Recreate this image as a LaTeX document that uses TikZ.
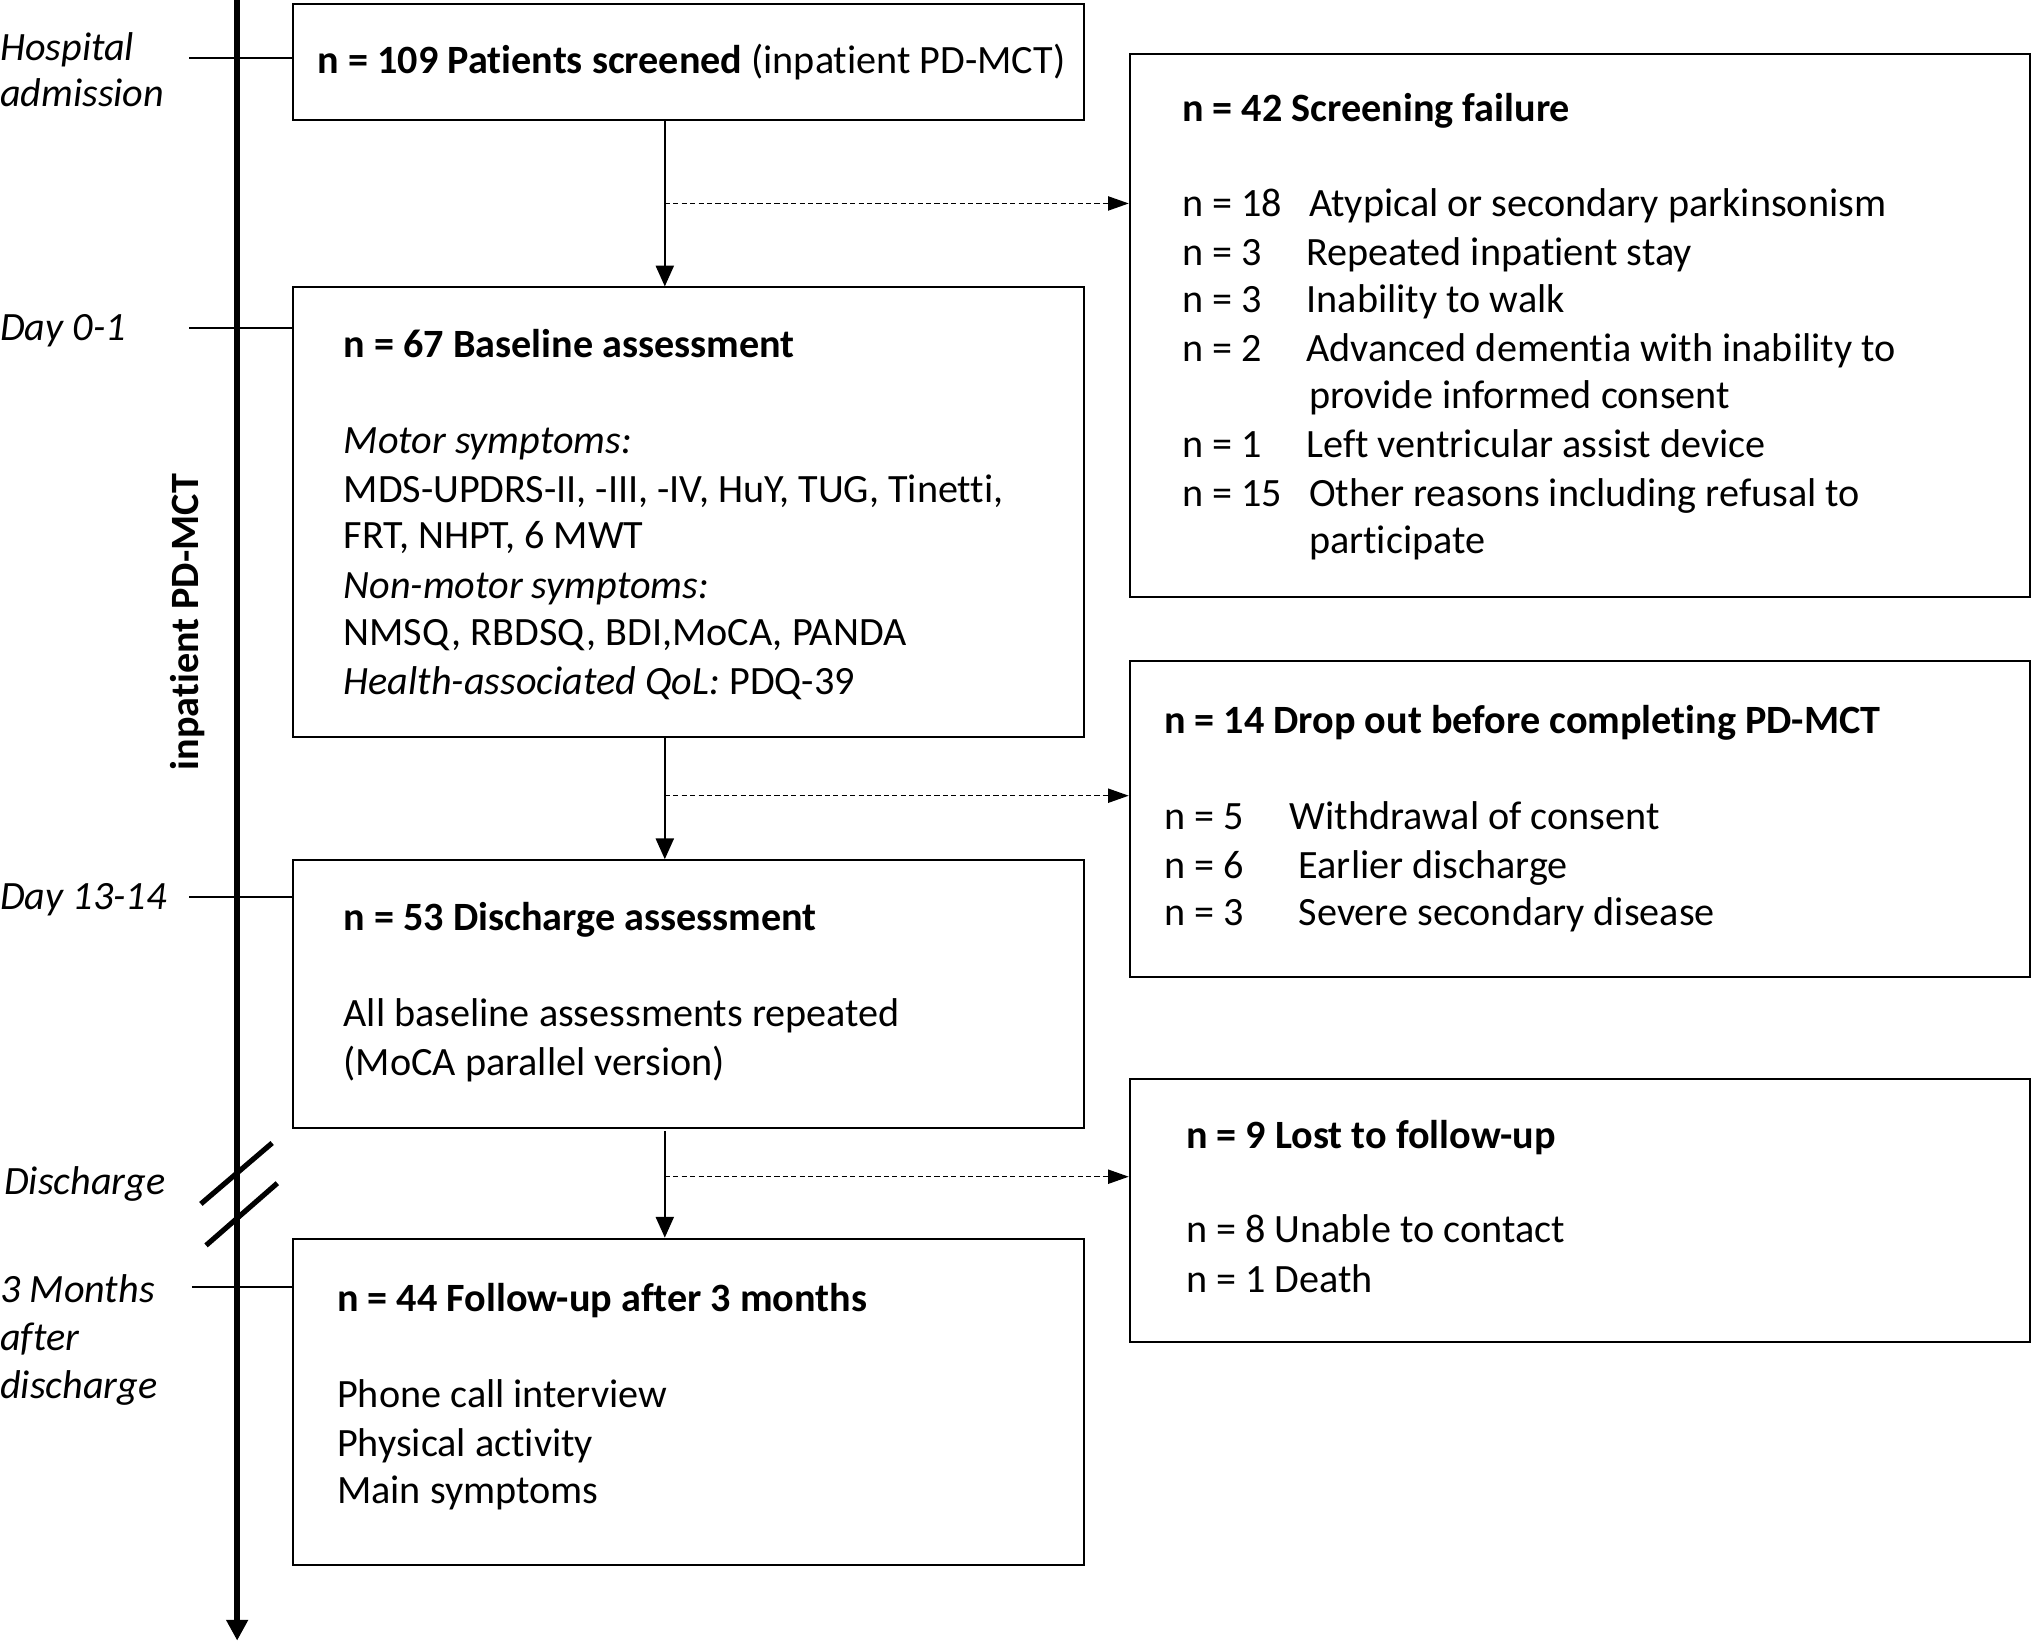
\documentclass[tikz,border=0pt]{standalone}
\usepackage{fontspec}
\setmainfont{Carlito}[Ligatures=NoCommon]
\usetikzlibrary{arrows.meta}
\begin{document}
\begin{tikzpicture}[x=1pt,y=-1pt,
  box/.style={draw, line width=1.5pt, anchor=north west, inner sep=0pt},
  txt/.style={anchor=base west, inner sep=0pt, font=\fontsize{31}{36}\selectfont},
  lbl/.style={txt, font=\fontsize{31}{36}\selectfont\itshape},
  conn/.style={line width=1.3pt},
  arr/.style={line width=1.3pt, -{Triangle[length=16pt,width=14pt]}},
  darr/.style={line width=1pt, dash pattern=on 4pt off 2.5pt, -{Triangle[length=16pt,width=11pt]}},
  axis/.style={line width=4.5pt, -{Triangle[length=16pt,width=16pt]}},
  brk/.style={line width=4pt}
]
\useasboundingbox (0,0) rectangle (1568,1268);

% timeline
\coordinate (tl0) at (183,0);
\coordinate (tl1) at (183,1266);
\draw[axis] (tl0) -- (tl1);
\node[rotate=90, inner sep=0pt, font=\fontsize{31}{36}\selectfont\bfseries] (phase) at (145,480) {inpatient PD-MCT};

% break marks
\coordinate (k1a) at (155,929);
\coordinate (k1b) at (210,882);
\coordinate (k2a) at (159,961);
\coordinate (k2b) at (214,913);
\draw[brk] (k1a) -- (k1b);
\draw[brk] (k2a) -- (k2b);

% left boxes
\node[box, minimum width=611pt, minimum height=90pt] (b1) at (225,2) {};
\node[box, minimum width=611pt, minimum height=347pt] (b2) at (225,221) {};
\node[box, minimum width=611pt, minimum height=207pt] (b3) at (225,663) {};
\node[box, minimum width=611pt, minimum height=252pt] (b4) at (225,955) {};
% right boxes
\node[box, minimum width=695pt, minimum height=419pt] (rA) at (871,41) {};
\node[box, minimum width=695pt, minimum height=244pt] (rB) at (871,509) {};
\node[box, minimum width=695pt, minimum height=203pt] (rC) at (871,832) {};

% ticks
\coordinate (t1) at (146,45);
\coordinate (t2) at (146,253);
\coordinate (t3) at (146,692);
\coordinate (t4) at (148,993);
\draw[conn] (t1) -- (t1 -| b1.west);
\draw[conn] (t2) -- (t2 -| b2.west);
\draw[conn] (t3) -- (t3 -| b3.west);
\draw[conn] (t4) -- (t4 -| b4.west);

% left labels
\node[lbl] (l1a) at (0,47) {Hospital};
\node[lbl] (l1b) at (0,82) {admission};
\node[lbl] (l2) at (0,263) {Day 0-1};
\node[lbl] (l3) at (0,702) {Day 13-14};
\node[lbl] (l4) at (3,922) {Discharge};
\node[lbl] (l5a) at (0,1005) {3 Months};
\node[lbl] (l5b) at (0,1042) {after};
\node[lbl] (l5c) at (0,1079) {discharge};

% vertical arrows
\coordinate (ax) at (513,0);
\draw[arr] (b1.south -| ax) -- (b2.north -| ax);
\draw[arr] (b2.south -| ax) -- (b3.north -| ax);
\coordinate (a3s) at (513,873);
\draw[arr] (a3s) -- (b4.north -| ax);

% dashed arrows
\coordinate (d1) at (513,157);
\coordinate (d2) at (513,614);
\coordinate (d3) at (513,908);
\draw[darr] (d1) -- (d1 -| rA.west);
\draw[darr] (d2) -- (d2 -| rB.west);
\draw[darr] (d3) -- (d3 -| rC.west);

% box 1 text
\node[txt] (s1) at (245,57) {\textbf{n = 109 Patients screened} (inpatient PD-MCT)};

% box 2 text
\node[txt] (s2) at (265,276) {\textbf{n = 67 Baseline assessment}};
\node[txt] (s2a) at (265,350) {\itshape Motor symptoms:};
\node[txt] (s2b) at (265,388) {MDS-UPDRS-II, -III, -IV, HuY, TUG, Tinetti,};
\node[txt] (s2c) at (265,423) {FRT, NHPT, 6 MWT};
\node[txt] (s2d) at (265,462) {\itshape Non-motor symptoms:};
\node[txt] (s2e) at (265,498) {NMSQ, RBDSQ, BDI,MoCA, PANDA};
\node[txt] (s2f) at (265,536) {\textit{Health-associated QoL:} PDQ-39};

% box 3 text
\node[txt] (s3) at (265,718) {\textbf{n = 53 Discharge assessment}};
\node[txt] (s3a) at (265,792) {All baseline assessments repeated};
\node[txt] (s3b) at (265,830) {(MoCA parallel version)};

% box 4 text
\node[txt] (s4) at (260,1012) {\textbf{n = 44 Follow-up after 3 months}};
\node[txt] (s4a) at (260,1086) {Phone call interview};
\node[txt] (s4b) at (260,1124) {Physical activity};
\node[txt] (s4c) at (260,1160) {Main symptoms};

% right box A
\node[txt] (ra0) at (912,94) {\textbf{n = 42 Screening failure}};
\node[txt] (ra1n) at (912,167) {n = 18};
\node[txt] (ra1) at (1010,167) {Atypical or secondary parkinsonism};
\node[txt] (ra2n) at (912,205) {n = 3};
\node[txt] (ra2) at (1008,205) {Repeated inpatient stay};
\node[txt] (ra3n) at (912,241) {n = 3};
\node[txt] (ra3) at (1008,241) {Inability to walk};
\node[txt] (ra4n) at (912,279) {n = 2};
\node[txt] (ra4) at (1008,279) {Advanced dementia with inability to};
\node[txt] (ra4b) at (1010,315) {provide informed consent};
\node[txt] (ra5n) at (912,353) {n = 1};
\node[txt] (ra5) at (1008,353) {Left ventricular assist device};
\node[txt] (ra6n) at (912,391) {n = 15};
\node[txt] (ra6) at (1010,391) {Other reasons including refusal to};
\node[txt] (ra6b) at (1010,427) {participate};

% right box B
\node[txt] (rb0) at (898,566) {\textbf{n = 14 Drop out before completing PD-MCT}};
\node[txt] (rb1n) at (898,640) {n = 5};
\node[txt] (rb1) at (995,640) {Withdrawal of consent};
\node[txt] (rb2n) at (898,678) {n = 6};
\node[txt] (rb2) at (1002,678) {Earlier discharge};
\node[txt] (rb3n) at (898,714) {n = 3};
\node[txt] (rb3) at (1002,714) {Severe secondary disease};

% right box C
\node[txt] (rc0) at (915,886) {\textbf{n = 9 Lost to follow-up}};
\node[txt] (rc1) at (915,959) {n = 8 Unable to contact};
\node[txt] (rc2) at (915,997) {n = 1 Death};
\end{tikzpicture}
\end{document}
